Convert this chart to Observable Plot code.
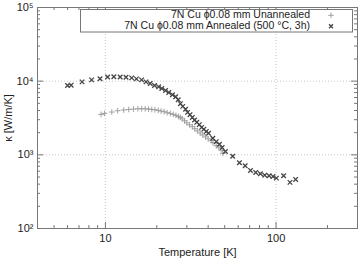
<!DOCTYPE html>
<html>
<head>
<meta charset="utf-8">
<script src="https://cdn.jsdelivr.net/npm/d3@7"></script>
<script src="https://cdn.jsdelivr.net/npm/@observablehq/plot@0.6"></script>
<style>
  body { margin: 0; background: #fff; }
  #chart { position: relative; width: 359px; height: 259px; }
</style>
</head>
<body>
<div id="chart"></div>
<script>
// ---- data ----
const annealedT = [6.0, 6.3, 7.3, 8.3, 9.3, 10.3, 11.2, 12.2, 13.2, 14.25, 15.2, 16.3, 17.3, 18.3, 19.4, 20.5, 21.4, 22.5, 23.5, 24.7, 25.8, 26.7, 27.5, 28.4, 29.5, 30.3, 31.3, 32.3, 33.3, 34.3, 35.5, 36.6, 37.7, 39.0, 40.2, 42.6, 44.6, 46.6, 48.3, 50.5, 55.7, 61.0, 65.9, 70.8, 76.0, 80.9, 85.8, 91.0, 96.0, 100.4, 110.7, 120.7, 130.2];
const annealedK = [8720, 8830, 9780, 10410, 10800, 11400, 11500, 11400, 11300, 11080, 10740, 10410, 9780, 9290, 8720, 8380, 7940, 7460, 7020, 6530, 6140, 5590, 4950, 4550, 4150, 3770, 3510, 3220, 2970, 2760, 2570, 2360, 2220, 2080, 1960, 1680, 1510, 1390, 1260, 1110, 957, 780, 710, 614, 577, 554, 530, 520, 509, 483, 520, 423, 464];

const unannealedT = [9.43, 9.87, 10.9, 11.8, 12.8, 13.7, 14.6, 15.5, 16.3, 17.1, 17.9, 18.7, 19.5, 20.4, 21.2, 22.1, 23.0, 24.0, 25.0, 25.9, 26.8, 27.5, 28.2, 29.1, 30.0, 31.1, 32.3, 33.4, 34.6, 35.9, 37.2, 38.6, 40.0, 41.7, 42.6, 44.6, 46.2, 48.3, 48.7];
const unannealedK = [3540, 3650, 3810, 3970, 4060, 4130, 4180, 4220, 4220, 4220, 4180, 4130, 4100, 4010, 3930, 3850, 3730, 3650, 3540, 3430, 3320, 3220, 3080, 2900, 2720, 2560, 2410, 2260, 2120, 1980, 1860, 1750, 1650, 1560, 1470, 1330, 1250, 1140, 1050];

const seriesNames = ["7N Cu \u03d50.08 mm Unannealed", "7N Cu \u03d50.08 mm Annealed (500 \u00b0C, 3h)"];

const xDomain = [4, 300];
const yDomain = [100, 100000];
const xMajor = [10, 100];
const xMinor = [5, 6, 7, 8, 9, 20, 30, 40, 50, 60, 70, 80, 90, 200];
const yMajor = [1000, 10000];
const yLabels = [100, 1000, 10000, 100000];
const yMinor = [200, 300, 400, 500, 600, 700, 800, 900, 2000, 3000, 4000, 5000, 6000, 7000, 8000, 9000, 20000, 30000, 40000, 50000, 60000, 70000, 80000, 90000];
const xLabel = "Temperature [K]";
const yLabel = "\u03ba [W/m/K]";

const annealed = annealedT.map((t, i) => ({T: t, k: annealedK[i]}));
const unannealed = unannealedT.map((t, i) => ({T: t, k: unannealedK[i]}));

// ---- layout ----
const W = 359, H = 259, mL = 37, mR = 2, mT = 7, mB = 31;
const pw = W - mL - mR, ph = H - mT - mB;
const sup = {"2": "\u00b2", "3": "\u00b3", "4": "\u2074", "5": "\u2075"};
const frameColor = "#777";
const gridColor = "#c8c8c8";
const unColor = "#999", anColor = "#444";

const chart = Plot.plot({
  width: W, height: H,
  marginLeft: mL, marginRight: mR, marginTop: mT, marginBottom: mB,
  style: {fontFamily: "'Liberation Sans', Arial, sans-serif", fontSize: "11px", color: "#222", background: "#fff"},
  x: {type: "log", domain: xDomain},
  y: {type: "log", domain: yDomain},
  marks: [
    Plot.ruleX(xMajor, {x: d => d, stroke: gridColor, strokeDasharray: "1,2"}),
    Plot.ruleY(yMajor, {y: d => d, stroke: gridColor, strokeDasharray: "1,2"}),
    // inward ticks on all four sides
    Plot.tickX(xMajor, {x: d => d, insetTop: ph - 6, stroke: frameColor}),
    Plot.tickX(xMajor, {x: d => d, insetBottom: ph - 6, stroke: frameColor}),
    Plot.tickX(xMinor, {x: d => d, insetTop: ph - 3, stroke: frameColor}),
    Plot.tickX(xMinor, {x: d => d, insetBottom: ph - 3, stroke: frameColor}),
    Plot.tickY(yMajor, {y: d => d, insetRight: pw - 6, stroke: frameColor}),
    Plot.tickY(yMajor, {y: d => d, insetLeft: pw - 6, stroke: frameColor}),
    Plot.tickY(yMinor, {y: d => d, insetRight: pw - 3, stroke: frameColor}),
    Plot.tickY(yMinor, {y: d => d, insetLeft: pw - 3, stroke: frameColor}),
    Plot.axisX({ticks: xMajor, tickSize: 0, tickPadding: 6, tickFormat: d => String(d), label: xLabel, labelAnchor: "center", labelArrow: "none", labelOffset: 27, fontSize: 11}),
    Plot.axisY({ticks: yLabels, tickSize: 0, tickPadding: 4, tickFormat: d => "10" + sup[String(Math.round(Math.log10(d)))], label: yLabel, labelAnchor: "center", labelArrow: "none", labelOffset: 33, fontSize: 11}),
    Plot.dot(unannealed, {x: "T", y: "k", symbol: "plus", r: 2, stroke: unColor, strokeWidth: 0.9}),
    Plot.dot(annealed, {x: "T", y: "k", symbol: "times", r: 2.2, stroke: anColor, strokeWidth: 1.3}),
    Plot.frame({stroke: frameColor})
  ]
});
document.getElementById("chart").appendChild(chart);

// ---- legend (gnuplot-style box, top right) ----
const svg = d3.select(chart);
const lg = svg.append("g").attr("font-family", "'Liberation Sans', Arial, sans-serif").attr("font-size", "10.5px");
lg.append("rect").attr("x", 80.5).attr("y", 9.5).attr("width", 272).attr("height", 22.5)
  .attr("fill", "#fff").attr("stroke", frameColor);
const legendStyles = [
  {sym: d3.symbolPlus, stroke: unColor, sw: 0.9},
  {sym: d3.symbolTimes, stroke: anColor, sw: 1.3}
];
seriesNames.forEach((name, i) => {
  const y = 15.3 + i * 11;
  lg.append("text").attr("x", 310).attr("y", y).attr("text-anchor", "end")
    .attr("dominant-baseline", "middle").attr("fill", "#222").text(name);
  lg.append("path").attr("transform", `translate(331,${y})`)
    .attr("d", d3.symbol(legendStyles[i].sym).size(12)())
    .attr("fill", "none").attr("stroke", legendStyles[i].stroke).attr("stroke-width", legendStyles[i].sw);
});
</script>
</body>
</html>
